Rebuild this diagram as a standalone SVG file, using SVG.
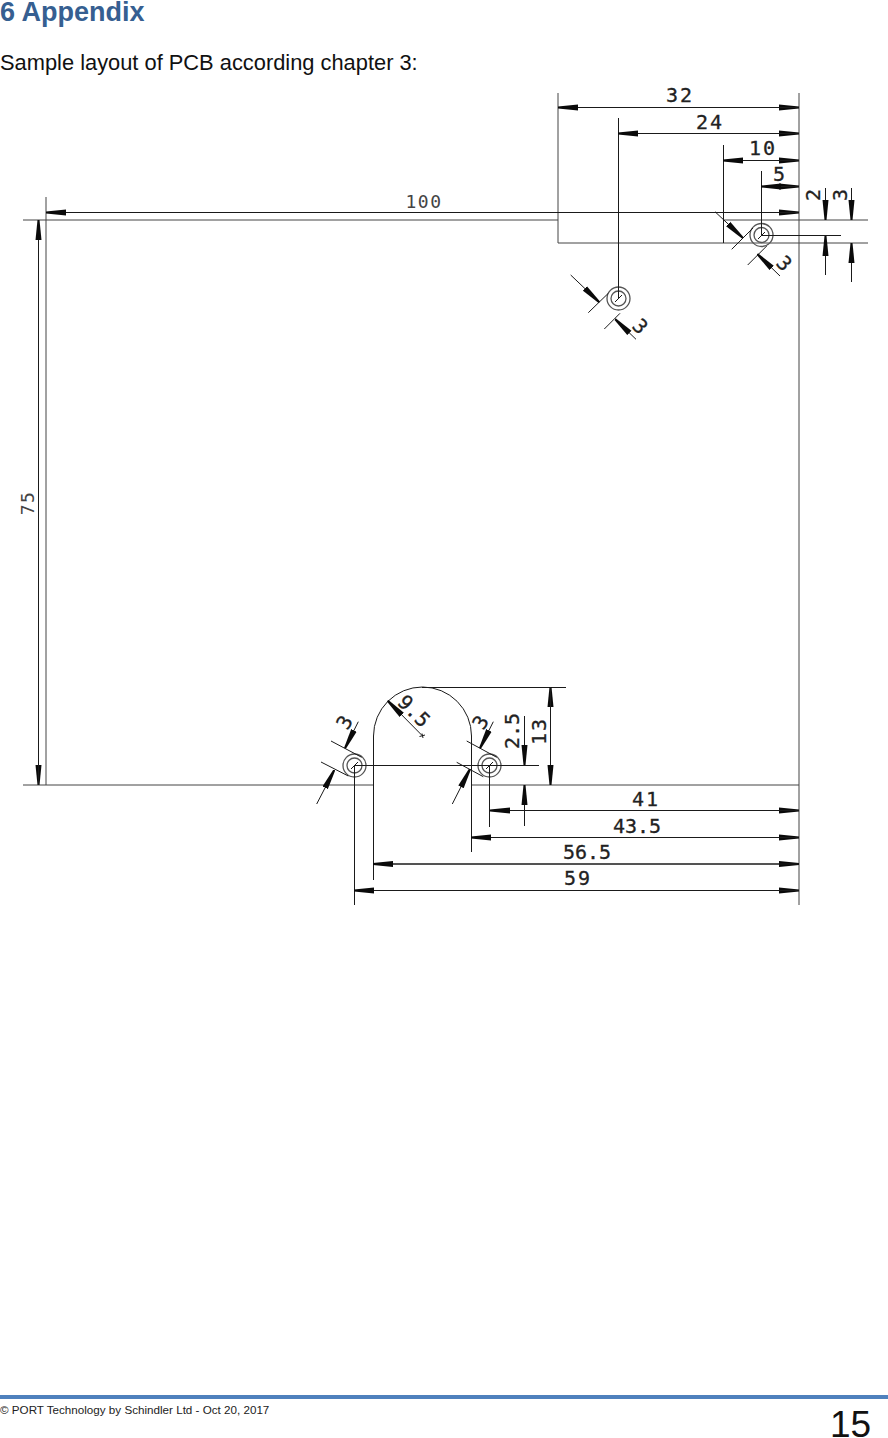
<svg xmlns="http://www.w3.org/2000/svg" width="888" height="1438" viewBox="0 0 888 1438">
<style>
.h{font:bold 27px "Liberation Sans",Arial,sans-serif;fill:#365f91}
.b{font:21.850px "Liberation Sans",Arial,sans-serif;fill:#111}
.f{font:11.650px "Liberation Sans",Arial,sans-serif;fill:#222}
.n{font:37px "Liberation Sans",Arial,sans-serif;fill:#111}
.d{font:20px "DejaVu Sans Mono",monospace;fill:#222;stroke:#222;stroke-width:.3;text-anchor:middle;letter-spacing:2px}
.t{letter-spacing:0}
.s{font:18px "DejaVu Sans Mono",monospace;fill:#444;text-anchor:middle;letter-spacing:1.500px}
.l{stroke:#1a1a1a;stroke-width:1;fill:none}
.g{stroke:#444;stroke-width:1;fill:none}
.a{stroke:#1a1a1a;stroke-width:1;fill:none;marker-end:url(#ah)}
.r{stroke:#555;stroke-width:1.300;fill:none}
</style>
<defs>
<marker id="ah" markerUnits="userSpaceOnUse" markerWidth="20" markerHeight="7" refX="20" refY="3.500" orient="auto"><path d="M0 .5L20 2.500V4.500L0 6.500Z" fill="#0a0a0a"/></marker>
</defs>
<rect width="888" height="1438" fill="#fff"/>
<g id="heading"><text class="h" x="0" y="21">6 Appendix</text><text class="b" x="0" y="70">Sample layout of PCB according chapter 3:</text></g>
<g id="outline">
<path class="g" d="M23 220H558M723 220H868M558 243H868M558 93V243M46 197V785M23 785H373M471 785H799M799 93V905"/>
<path class="l" d="M373.500 880V736A49 49 0 0 1 471.500 736V852M422 687.500H566"/>
</g>
<g id="holes">
<g id="hole-1"><circle class="r" cx="618.500" cy="298.500" r="11.500"/><circle class="r" cx="618.500" cy="298.500" r="7.500"/></g>
<g id="hole-2"><circle class="r" cx="761.500" cy="235" r="11.500"/><circle class="r" cx="761.500" cy="235" r="7.500"/></g>
<g id="hole-3"><circle class="r" cx="354.500" cy="765.500" r="11.500"/><circle class="r" cx="354.500" cy="765.500" r="7.500"/></g>
<g id="hole-4"><circle class="r" cx="489.500" cy="765.500" r="11.500"/><circle class="r" cx="489.500" cy="765.500" r="7.500"/></g>
</g>
<g id="connectors">
<path class="l" d="M618.500 118V298M723.500 145V243M761.500 171V235M761 235.500H841M354 765.500H539M354.500 765V905M489.500 765V827"/>
<path class="l" d="M758 239L765 232M615 302L622 295M351 769L358 762M486 769L493 762"/>
<path class="a" d="M558 107.500H799"/><path class="a" d="M799 107.500H558"/>
<path class="a" d="M618 133.500H799"/><path class="a" d="M799 133.500H618"/>
<path class="a" d="M723 160.500H799"/><path class="a" d="M799 160.500H723"/>
<path class="a" d="M761 186.500H799"/><path class="a" d="M799 186.500H761"/>
<path class="a" d="M46 212.500H799"/><path class="a" d="M799 212.500H46"/>
<path class="a" d="M38.500 220V785"/><path class="a" d="M38.500 785V220"/>
<path class="a" d="M825.500 188V220"/><path class="a" d="M825.500 275V236"/>
<path class="a" d="M851.500 188V220"/><path class="a" d="M851.500 282V243"/>
<path class="a" d="M550.500 785V687"/><path class="a" d="M550.500 687V785"/>
<path class="a" d="M524.500 716V765"/><path class="a" d="M524.500 826V785"/>
<path class="a" d="M490 810.500H799"/><path class="a" d="M799 810.500H490"/>
<path class="a" d="M471 837.500H799"/><path class="a" d="M799 837.500H471"/>
<path class="a" d="M373 864H799"/><path class="a" d="M799 864H373"/>
<path class="a" d="M354 890.500H799"/><path class="a" d="M799 890.500H354"/>
<path class="l" d="M731.700 249.300L753 228M747.700 265L766.700 246M588.300 312.700L608.300 293.300M604.300 329L620 313.300M331 741L361.700 757.300M321 762L348.300 776M466.700 741L496.700 757.300M456.700 762.300L483.300 776.700"/>
<path class="a" d="M715 211.700L742.700 237.700"/><path class="a" d="M780 276L757.300 254"/>
<path class="a" d="M570.700 275L599.300 302.300"/><path class="a" d="M636 339.300L615 319"/>
<path class="a" d="M358.300 721.700L345 748.300"/><path class="a" d="M316.700 804L334.300 770"/>
<path class="a" d="M493.300 721.700L480 748.300"/><path class="a" d="M452.300 804L470 769"/>
<path class="a" d="M422.300 735.700L387.700 700.700"/>
<path class="l" d="M419.500 736.500L425 735M422 733.500L423 738"/>
</g>
<g id="labels">
<text class="d" x="680" y="102">32</text>
<text class="d" x="710" y="129">24</text>
<text class="d" x="763" y="155">10</text>
<text class="d" x="780" y="181">5</text>
<text class="s" x="424" y="208">100</text>
<text class="s" transform="translate(34 503) rotate(-90)">75</text>
<text class="d" x="646" y="806">41</text>
<text class="d t" x="637" y="833">43.5</text>
<text class="d t" x="587" y="859">56.5</text>
<text class="d" x="578" y="885">59</text>
<text class="d" transform="translate(546 731) rotate(-90)">13</text>
<text class="d t" transform="translate(519 731) rotate(-90)">2.5</text>
<text class="d" transform="translate(820 194) rotate(-90)">2</text>
<text class="d" transform="translate(847 194) rotate(-90)">3</text>
<text class="d" transform="translate(780 269) rotate(45)">3</text>
<text class="d" transform="translate(636 332) rotate(45)">3</text>
<text class="d" transform="translate(351 725) rotate(-60)">3</text>
<text class="d" transform="translate(487 725) rotate(-60)">3</text>
<text class="d t" transform="translate(409 716) rotate(45)">9.5</text>
</g>
<g id="footer"><rect y="1395" width="888" height="4" fill="#4f81bd"/><text class="f" x="0" y="1414">© PORT Technology by Schindler Ltd - Oct 20, 2017</text><text class="n" x="830" y="1437">15</text></g>
</svg>
